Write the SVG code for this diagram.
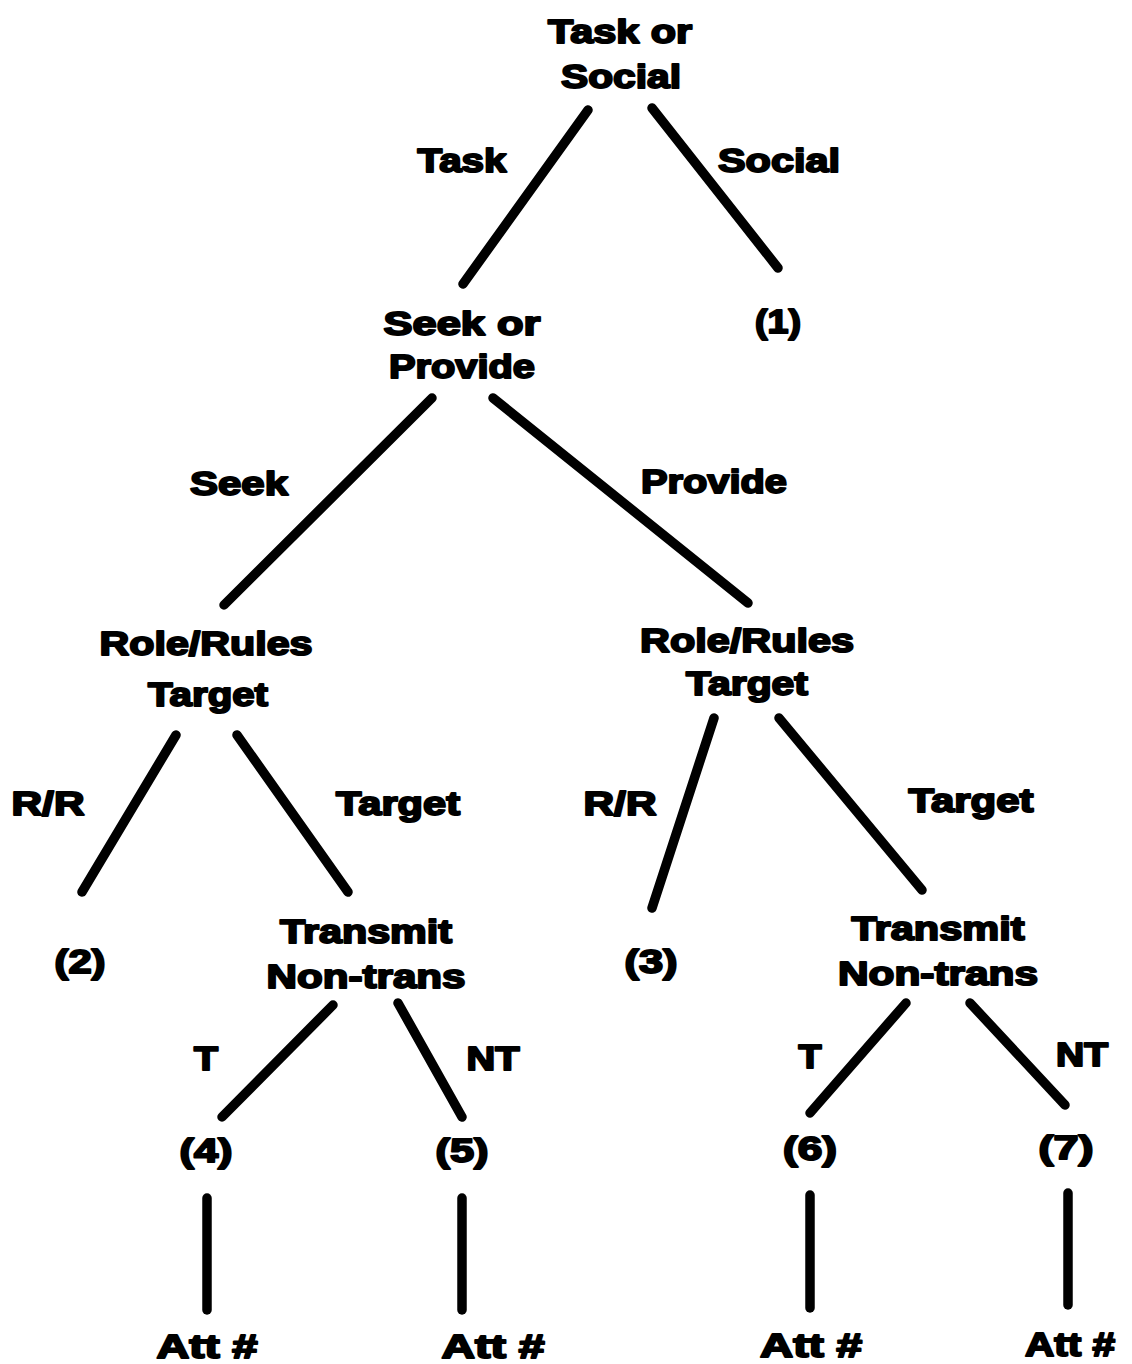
<svg xmlns="http://www.w3.org/2000/svg" width="1132" height="1364" viewBox="0 0 1132 1364">
  <style>
    text {
      font-family: "Liberation Sans", Arial, sans-serif;
      font-weight: bold;
      font-size: 34px;
      fill: #000;
      stroke: #000;
      stroke-width: 2px;
      stroke-linejoin: round;
      text-anchor: middle;
    }
    .edge { stroke: #000; stroke-width: 9.5; stroke-linecap: round; fill: none; }
  </style>
  <rect width="1132" height="1364" fill="#fff"/>

  <!-- tree branches -->
  <g id="connectors">
    <line class="edge" x1="588" y1="110" x2="463" y2="284"/>
    <line class="edge" x1="652" y1="108" x2="778" y2="268"/>
    <line class="edge" x1="432" y1="398" x2="224" y2="605"/>
    <line class="edge" x1="493" y1="398" x2="748" y2="603"/>
    <line class="edge" x1="176" y1="735" x2="82" y2="892"/>
    <line class="edge" x1="237" y1="735" x2="348" y2="892"/>
    <line class="edge" x1="714" y1="718" x2="652" y2="908"/>
    <line class="edge" x1="779" y1="718" x2="922" y2="890"/>
    <line class="edge" x1="333" y1="1005" x2="222" y2="1117"/>
    <line class="edge" x1="398" y1="1003" x2="462" y2="1117"/>
    <line class="edge" x1="906" y1="1003" x2="810" y2="1113"/>
    <line class="edge" x1="970" y1="1003" x2="1065" y2="1105"/>
    <line class="edge" x1="207" y1="1198" x2="207" y2="1310"/>
    <line class="edge" x1="462" y1="1198" x2="462" y2="1310"/>
    <line class="edge" x1="810" y1="1195" x2="810" y2="1308"/>
    <line class="edge" x1="1068" y1="1193" x2="1068" y2="1305"/>
  </g>

  <!-- branch labels -->
  <g id="edge-labels">
    <text x="462" y="172" textLength="89" lengthAdjust="spacingAndGlyphs">Task</text>
    <text x="779" y="172" textLength="122" lengthAdjust="spacingAndGlyphs">Social</text>
    <text x="239" y="495" textLength="98" lengthAdjust="spacingAndGlyphs">Seek</text>
    <text x="714" y="493" textLength="146" lengthAdjust="spacingAndGlyphs">Provide</text>
    <text x="48" y="815" textLength="73" lengthAdjust="spacingAndGlyphs">R/R</text>
    <text x="398" y="815" textLength="124" lengthAdjust="spacingAndGlyphs">Target</text>
    <text x="620" y="815" textLength="73" lengthAdjust="spacingAndGlyphs">R/R</text>
    <text x="971" y="812" textLength="125" lengthAdjust="spacingAndGlyphs">Target</text>
    <text x="206" y="1070" textLength="24" lengthAdjust="spacingAndGlyphs">T</text>
    <text x="493" y="1070" textLength="53" lengthAdjust="spacingAndGlyphs">NT</text>
    <text x="810" y="1068" textLength="23" lengthAdjust="spacingAndGlyphs">T</text>
    <text x="1082" y="1066" textLength="52" lengthAdjust="spacingAndGlyphs">NT</text>
  </g>

  <g id="n-root">
    <text x="620" y="43" textLength="144" lengthAdjust="spacingAndGlyphs">Task or</text>
    <text x="621" y="88" textLength="120" lengthAdjust="spacingAndGlyphs">Social</text>
  </g>
  <g id="n-seek-provide">
    <text x="462" y="335" textLength="157" lengthAdjust="spacingAndGlyphs">Seek or</text>
    <text x="462" y="378" textLength="146" lengthAdjust="spacingAndGlyphs">Provide</text>
  </g>
  <g id="n-1">
    <text x="778" y="333" textLength="46" lengthAdjust="spacingAndGlyphs">(1)</text>
  </g>
  <g id="n-rr-seek">
    <text x="206" y="655" textLength="213" lengthAdjust="spacingAndGlyphs">Role/Rules</text>
    <text x="208" y="706" textLength="120" lengthAdjust="spacingAndGlyphs">Target</text>
  </g>
  <g id="n-rr-provide">
    <text x="747" y="652" textLength="214" lengthAdjust="spacingAndGlyphs">Role/Rules</text>
    <text x="747" y="695" textLength="122" lengthAdjust="spacingAndGlyphs">Target</text>
  </g>
  <g id="n-2">
    <text x="80" y="973" textLength="51" lengthAdjust="spacingAndGlyphs">(2)</text>
  </g>
  <g id="n-tn-seek">
    <text x="366" y="943" textLength="172" lengthAdjust="spacingAndGlyphs">Transmit</text>
    <text x="366" y="988" textLength="199" lengthAdjust="spacingAndGlyphs">Non-trans</text>
  </g>
  <g id="n-3">
    <text x="651" y="973" textLength="53" lengthAdjust="spacingAndGlyphs">(3)</text>
  </g>
  <g id="n-tn-provide">
    <text x="938" y="940" textLength="173" lengthAdjust="spacingAndGlyphs">Transmit</text>
    <text x="938" y="985" textLength="200" lengthAdjust="spacingAndGlyphs">Non-trans</text>
  </g>
  <g id="n-4">
    <text x="206" y="1162" textLength="53" lengthAdjust="spacingAndGlyphs">(4)</text>
  </g>
  <g id="n-5">
    <text x="462" y="1162" textLength="53" lengthAdjust="spacingAndGlyphs">(5)</text>
  </g>
  <g id="n-6">
    <text x="810" y="1160" textLength="54" lengthAdjust="spacingAndGlyphs">(6)</text>
  </g>
  <g id="n-7">
    <text x="1066" y="1159" textLength="55" lengthAdjust="spacingAndGlyphs">(7)</text>
  </g>
  <g id="n-att-4">
    <text x="207" y="1358" textLength="101" lengthAdjust="spacingAndGlyphs">Att #</text>
  </g>
  <g id="n-att-5">
    <text x="493" y="1358" textLength="103" lengthAdjust="spacingAndGlyphs">Att #</text>
  </g>
  <g id="n-att-6">
    <text x="811" y="1357" textLength="102" lengthAdjust="spacingAndGlyphs">Att #</text>
  </g>
  <g id="n-att-7">
    <text x="1070" y="1356" textLength="90" lengthAdjust="spacingAndGlyphs">Att #</text>
  </g>
</svg>
